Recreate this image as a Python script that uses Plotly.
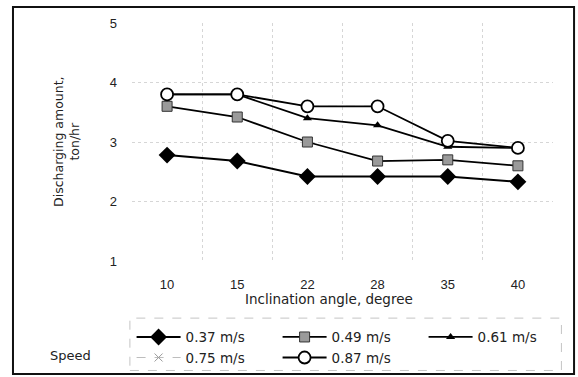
import plotly.graph_objects as go

# Inclination angles (categories) and discharging amounts (ton/hr) per belt speed
angles = ["10", "15", "22", "28", "35", "40"]
speed_037 = [2.78, 2.68, 2.42, 2.42, 2.42, 2.33]
speed_049 = [3.60, 3.42, 3.00, 2.68, 2.70, 2.60]
speed_061 = [3.80, 3.80, 3.40, 3.28, 2.92, 2.90]
speed_075 = [3.80, 3.80, 3.60, 3.60, 3.02, 2.90]
speed_087 = [3.80, 3.80, 3.60, 3.60, 3.02, 2.90]

y_ticks = [1, 2, 3, 4, 5]

FONT = "Liberation Sans, Arial, sans-serif"
WIDE = "DejaVu Sans, sans-serif"

fig = go.Figure()

fig.add_trace(go.Scatter(
    x=angles, y=speed_037, name="0.37 m/s", mode="lines+markers",
    line=dict(color="black", width=2),
    marker=dict(symbol="diamond", size=13, color="black"),
))
fig.add_trace(go.Scatter(
    x=angles, y=speed_049, name="0.49 m/s", mode="lines+markers",
    line=dict(color="black", width=1.8),
    marker=dict(symbol="square", size=10, color="#9a9a9a",
                line=dict(color="#333", width=1)),
))
fig.add_trace(go.Scatter(
    x=angles, y=speed_061, name="0.61 m/s", mode="lines+markers",
    line=dict(color="black", width=1.8),
    marker=dict(symbol="triangle-up", size=8, color="black"),
))
fig.add_trace(go.Scatter(
    x=angles, y=speed_075, name="0.75 m/s", mode="lines+markers",
    line=dict(color="#bdbdbd", width=1, dash="dash"),
    marker=dict(symbol="x-thin-open", size=8, color="#9a9a9a",
                line=dict(color="#9a9a9a", width=1)),
))
fig.add_trace(go.Scatter(
    x=angles, y=speed_087, name="0.87 m/s", mode="lines+markers",
    line=dict(color="black", width=1.8),
    marker=dict(symbol="circle", size=12, color="white",
                line=dict(color="black", width=1.8)),
))

fig.update_xaxes(
    type="category", categoryorder="array", categoryarray=angles,
    range=[-0.5, 5.5], tickson="boundaries",
    showgrid=True, gridcolor="#d6d6d6", griddash="dot", gridwidth=1,
    showline=False, zeroline=False, ticks="",
    ticklabelstandoff=14,
    tickfont=dict(family=FONT, size=13, color="#222"),
)
fig.update_yaxes(
    range=[1, 5], tickvals=y_ticks,
    showgrid=True, gridcolor="#d6d6d6", griddash="dot", gridwidth=1,
    showline=False, zeroline=False, ticks="",
    ticklabelstandoff=14,
    tickfont=dict(family=FONT, size=13, color="#222"),
)

shapes = [
    # outer frame
    dict(type="rect", xref="paper", yref="paper",
         x0=-0.2827, x1=1.05, y0=-0.475, y1=1.067,
         line=dict(color="#111", width=2)),
    # legend box
    dict(type="rect", xref="paper", yref="paper",
         x0=-0.005, x1=1.02, y0=-0.46, y1=-0.24,
         line=dict(color="#c4c4c4", width=1, dash="dash")),
]

annotations = [
    dict(text="Discharging amount,<br>ton/hr", xref="paper", yref="paper",
         x=-0.157, y=0.5, xanchor="center", yanchor="middle",
         textangle=-90, showarrow=False,
         font=dict(family=WIDE, size=12.5, color="#222")),
    dict(text="Inclination angle, degree", xref="paper", yref="paper",
         x=0.468, y=-0.16, xanchor="center", yanchor="middle",
         showarrow=False,
         font=dict(family=WIDE, size=13.5, color="#222")),
    dict(text="Speed", xref="paper", yref="paper",
         x=-0.147, y=-0.395, xanchor="center", yanchor="middle",
         showarrow=False,
         font=dict(family=WIDE, size=13, color="#222")),
]

fig.update_layout(
    width=578, height=377,
    margin=dict(l=132, r=25, t=23, b=116, autoexpand=False),
    paper_bgcolor="white", plot_bgcolor="white",
    showlegend=True,
    legend=dict(
        orientation="h", x=-0.001, y=-0.255, xanchor="left", yanchor="top",
        entrywidth=87, entrywidthmode="pixels",
        itemwidth=44, tracegroupgap=0,
        font=dict(family=WIDE, size=13.5, color="#222"),
        bgcolor="rgba(0,0,0,0)",
    ),
    shapes=shapes,
    annotations=annotations,
)

fig.write_html("out.html")
